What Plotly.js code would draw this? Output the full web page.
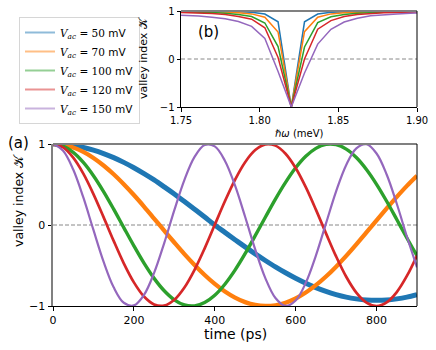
<!DOCTYPE html>
<html>
<head>
<meta charset="utf-8">
<script src="https://cdn.plot.ly/plotly-3.0.1.min.js"></script>
<style>
  body { margin: 0; background: #fff; }
  #plot { width: 436px; height: 350px; }
</style>
</head>
<body>
<div id="plot"></div>
<script>
// (a) time traces, ps
const time = [0, 25, 50, 75, 100, 125, 150, 175, 200, 225, 250, 275, 300, 325, 350, 375, 400, 425,
    450, 475, 500, 525, 550, 575, 600, 625, 650, 675, 700, 725, 750, 775, 800, 825, 850, 875, 900];

const k50 = [1, 0.995, 0.981, 0.957, 0.924, 0.882, 0.832, 0.773, 0.707, 0.634, 0.556, 0.471, 0.383,
    0.290, 0.195, 0.098, 0.000, -0.091, -0.181, -0.270, -0.356, -0.438, -0.517, -0.590, -0.658,
    -0.719, -0.773, -0.820, -0.859, -0.890, -0.912, -0.926, -0.930, -0.926, -0.912, -0.890, -0.859];
const k70 = [1, 0.989, 0.956, 0.902, 0.828, 0.735, 0.626, 0.503, 0.370, 0.228, 0.080, -0.069, -0.216,
    -0.359, -0.493, -0.617, -0.727, -0.821, -0.896, -0.952, -0.987, -1.000, -0.991, -0.959, -0.907,
    -0.834, -0.743, -0.636, -0.514, -0.381, -0.239, -0.092, 0.057, 0.204, 0.347, 0.483, 0.608];
const k100 = [1, 0.974, 0.897, 0.773, 0.609, 0.413, 0.196, -0.032, -0.258, -0.471, -0.659, -0.812,
    -0.924, -0.987, -0.998, -0.957, -0.867, -0.731, -0.557, -0.354, -0.132, 0.096, 0.320, 0.526,
    0.706, 0.848, 0.946, 0.995, 0.992, 0.937, 0.833, 0.685, 0.502, 0.293, 0.068, -0.160, -0.380];
const k120 = [1, 0.957, 0.831, 0.634, 0.382, 0.097, -0.196, -0.473, -0.708, -0.883, -0.981, -0.995,
    -0.923, -0.771, -0.553, -0.288, 0.003, 0.293, 0.558, 0.775, 0.925, 0.996, 0.980, 0.880, 0.704,
    0.467, 0.190, -0.103, -0.388, -0.639, -0.835, -0.959, -1.000, -0.955, -0.828, -0.629, -0.376];
const k150 = [1, 0.918, 0.685, 0.340, -0.061, -0.452, -0.769, -0.960, -0.993, -0.863, -0.591, -0.223,
    0.183, 0.558, 0.841, 0.987, 0.970, 0.794, 0.488, 0.102, -0.301, -0.655, -0.901, -0.999, -0.933,
    -0.714, -0.378, 0.020, 0.416, 0.742, 0.947, 0.997, 0.883, 0.624, 0.262, -0.142, -0.523];

// (b) spectrum, meV
const energy = [1.7445, 1.7529, 1.7613, 1.7697, 1.7781, 1.7865, 1.7949, 1.8033, 1.8117, 1.8201,
    1.8285, 1.8369, 1.8453, 1.8537, 1.8621, 1.8705, 1.8789, 1.8873, 1.8957, 1.9041];
const s50 = [0.997, 0.996, 0.995, 0.993, 0.990, 0.984, 0.972, 0.937, 0.775, -1, 0.775, 0.937, 0.972,
    0.984, 0.990, 0.993, 0.995, 0.996, 0.997, 0.997];
const s70 = [0.993, 0.991, 0.988, 0.984, 0.977, 0.964, 0.940, 0.870, 0.560, -1, 0.570, 0.870, 0.940,
    0.964, 0.977, 0.984, 0.988, 0.991, 0.993, 0.994];
const s100 = [0.986, 0.982, 0.976, 0.968, 0.954, 0.929, 0.885, 0.750, 0.260, -1, 0.250, 0.760, 0.880,
    0.929, 0.954, 0.968, 0.976, 0.982, 0.986, 0.988];
const s120 = [0.976, 0.970, 0.961, 0.948, 0.926, 0.887, 0.830, 0.650, 0.030, -1, 0.000, 0.620, 0.800,
    0.887, 0.926, 0.948, 0.961, 0.970, 0.976, 0.981];
const s150 = [0.920, 0.910, 0.895, 0.870, 0.840, 0.780, 0.680, 0.430, -0.260, -1, -0.290, 0.310, 0.620,
    0.770, 0.850, 0.900, 0.925, 0.940, 0.955, 0.962];

const voltages = [50, 70, 100, 120, 150];
const colours = ['#1f77b4', '#ff7f0e', '#2ca02c', '#d62728', '#9467bd'];
const faded = ['rgba(31,119,180,0.5)', 'rgba(255,127,14,0.5)', 'rgba(44,160,44,0.5)',
    'rgba(214,39,40,0.5)', 'rgba(148,103,189,0.5)'];
const widths = [5, 4.3, 3.4, 2.7, 2.2];

const timeSeries = [k50, k70, k100, k120, k150];
const specSeries = [s50, s70, s100, s120, s150];

const W = 436, H = 350;
const px = (x) => x / W;
const py = (y) => 1 - y / H;

const data = [];

timeSeries.forEach((ys, i) => {
    data.push({
        x: time, y: ys, xaxis: 'x', yaxis: 'y',
        type: 'scatter', mode: 'lines', showlegend: false,
        line: {color: colours[i], width: widths[i], shape: 'spline', smoothing: 1},
    });
});

specSeries.forEach((ys, i) => {
    data.push({
        x: energy, y: ys, xaxis: 'x2', yaxis: 'y2',
        type: 'scatter', mode: 'lines', showlegend: false,
        line: {color: colours[i], width: 1.5},
    });
});

// legend entries only
voltages.forEach((v, i) => {
    data.push({
        x: [null], y: [null], xaxis: 'x', yaxis: 'y',
        type: 'scatter', mode: 'lines',
        name: '<span style="font-family:\'DejaVu Serif\'"><i>V</i><sub><i>ac</i></sub> = ' + v + '</span> mV',
        line: {color: faded[i], width: 2},
    });
});

const axisBase = {
    showgrid: false, zeroline: false, showline: true,
    linecolor: '#000', linewidth: 1,
    ticks: 'outside', ticklen: 3.5, tickwidth: 1, tickcolor: '#000',
    fixedrange: true,
};

function label(text, x, y, size, angle) {
    return {
        text, xref: 'paper', yref: 'paper', x: px(x), y: py(y),
        xanchor: 'center', yanchor: 'middle', showarrow: false,
        textangle: angle || 0, font: {size},
    };
}

const layout = {
    width: W, height: H,
    margin: {l: 0, r: 0, t: 0, b: 0},
    paper_bgcolor: '#fff', plot_bgcolor: '#fff',
    font: {family: 'DejaVu Sans', color: '#000', size: 11},
    xaxis: Object.assign({}, axisBase, {
        domain: [px(53), px(417)], anchor: 'y', range: [0, 900],
        tickvals: [0, 200, 400, 600, 800], tickfont: {size: 11},
    }),
    yaxis: Object.assign({}, axisBase, {
        domain: [py(306), py(144)], anchor: 'x', range: [-1, 1],
        tickvals: [-1, 0, 1], tickfont: {size: 11},
        linecolor: '#808080', linewidth: 2,
    }),
    xaxis2: Object.assign({}, axisBase, {
        domain: [px(181), px(417)], anchor: 'y2', range: [1.75, 1.90],
        tickvals: [1.75, 1.80, 1.85, 1.90], tickformat: '.2f', tickfont: {size: 10},
    }),
    yaxis2: Object.assign({}, axisBase, {
        domain: [py(107), py(11)], anchor: 'x2', range: [-1, 1],
        tickvals: [-1, 0, 1], tickfont: {size: 10},
    }),
    legend: {
        x: px(19), y: py(17), xanchor: 'left', yanchor: 'top',
        bgcolor: '#fff', bordercolor: '#d6d6d6', borderwidth: 1,
        font: {size: 10.5},
    },
    shapes: [
        {type: 'line', xref: 'x domain', yref: 'y', x0: 0, x1: 1, y0: 0, y1: 0, layer: 'below',
            line: {color: '#888', width: 1, dash: '4px,2px'}},
        {type: 'line', xref: 'x2 domain', yref: 'y2', x0: 0, x1: 1, y0: 0, y1: 0, layer: 'below',
            line: {color: '#888', width: 1, dash: '4px,2.5px'}},
        {type: 'line', xref: 'x domain', yref: 'y domain', x0: 0, x1: 1, y0: 1, y1: 1,
            line: {color: '#808080', width: 2}},
        {type: 'line', xref: 'x domain', yref: 'y domain', x0: 1, x1: 1, y0: 0, y1: 1,
            line: {color: '#000', width: 1}},
        {type: 'line', xref: 'x2 domain', yref: 'y2 domain', x0: 0, x1: 1, y0: 1, y1: 1,
            line: {color: '#808080', width: 2}},
        {type: 'line', xref: 'x2 domain', yref: 'y2 domain', x0: 1, x1: 1, y0: 0, y1: 1,
            line: {color: '#000', width: 1}},
    ],
    annotations: [
        label('(a)', 18, 143, 15),
        label('(b)', 208, 32, 15),
        label('valley index 𝒦', 18, 201, 12.5, -90),
        label('valley index 𝒦', 144, 58, 11, -90),
        label('time (ps)', 235, 334, 14),
        label('ℏ<i>ω</i> (meV)', 299, 134, 10),
    ],
};

Plotly.newPlot('plot', data, layout, {displayModeBar: false, staticPlot: true});
</script>
</body>
</html>
